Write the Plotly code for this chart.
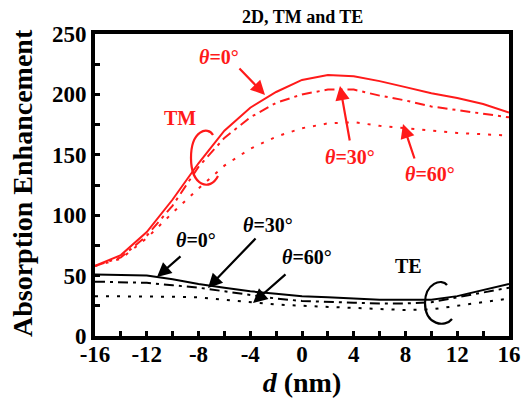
import plotly.graph_objects as go

d_nm = [-16, -14, -12, -10, -8, -6, -4, -2, 0, 2, 4, 6, 8, 10, 12, 14, 16]
tm_0 = [58, 67, 86, 113, 143, 170, 189, 202, 212, 216, 215, 211, 206, 201, 197, 192, 185]
tm_30 = [58, 65, 83, 108, 140, 164, 181, 193, 200, 204, 204, 199, 195, 190, 187, 184, 181]
tm_60 = [58, 64, 81, 102, 122, 141, 155, 165, 172, 176, 177, 174, 172, 170, 168, 167, 166]
te_0 = [51, 50.5, 50, 47, 43, 40, 37, 35, 33, 32, 31, 30, 30, 30, 33, 38, 43]
te_30 = [45, 44.5, 44, 42, 40, 37, 34, 31, 29, 28, 27.5, 27, 27, 28, 32, 36, 40]
te_60 = [33, 33, 33, 32.5, 32, 30, 28, 26, 25, 24, 23, 22, 21.5, 22, 25, 28, 31]

x_ticks = [-16, -12, -8, -4, 0, 4, 8, 12, 16]
y_ticks = [0, 50, 100, 150, 200, 250]

RED = "#ff1a1a"
FONT = "Liberation Serif"

# plot area in pixels
L, R, T, B = 95, 509, 34, 336

fig = go.Figure()
series = [
    (tm_0, RED, "solid"), (tm_30, RED, "10px,5px,3px,5px"), (tm_60, RED, "3px,8px"),
    (te_0, "black", "solid"), (te_30, "black", "10px,5px,3px,5px"), (te_60, "black", "3px,8px"),
]
for ys, col, dash in series:
    fig.add_trace(go.Scatter(x=d_nm, y=ys, mode="lines",
                             line=dict(color=col, width=2, dash=dash),
                             showlegend=False, hoverinfo="skip"))

# pixel -> data helpers for decorations
def px(xp):
    return -16 + (xp - L) * 32 / (R - L)

def py(yp):
    return (B - yp) * 250 / (B - T)

def label(xp, yp, text, color):
    fig.add_annotation(x=px(xp), y=py(yp), text=text, showarrow=False,
                       font=dict(family=FONT, size=20, color=color, weight="bold"))

def arrow(x0, y0, x1, y1, color):
    fig.add_annotation(x=px(x1), y=py(y1), ax=px(x0), ay=py(y0), axref="x", ayref="y",
                       xref="x", yref="y", text="", showarrow=True, arrowhead=2,
                       arrowsize=1.3, arrowwidth=2.2, arrowcolor=color)

label(219, 57, "<i>θ</i>=0°", RED)
arrow(238, 67, 265, 95, RED)
label(180, 118, "TM", RED)
label(350, 157, "<i>θ</i>=30°", RED)
arrow(350, 142, 340, 86, RED)
label(430, 174, "<i>θ</i>=60°", RED)
arrow(415, 160, 403, 124, RED)

label(196, 240, "<i>θ</i>=0°", "black")
arrow(182, 255, 157, 277, "black")
label(268, 225, "<i>θ</i>=30°", "black")
arrow(257, 237, 208, 288, "black")
label(307, 257, "<i>θ</i>=60°", "black")
arrow(287, 273, 253, 303, "black")
label(408, 266, "TE", "black")

def cpath(pts):
    (a, b, c, d, e, f, g) = pts
    s = "M %f,%f C %f,%f %f,%f %f,%f C %f,%f %f,%f %f,%f" % (
        px(a[0]), py(a[1]), px(b[0]), py(b[1]), px(c[0]), py(c[1]), px(d[0]), py(d[1]),
        px(e[0]), py(e[1]), px(f[0]), py(f[1]), px(g[0]), py(g[1]))
    return s

fig.add_shape(type="path", xref="x", yref="y",
              path=cpath([(213, 135), (208, 126), (191, 130), (191, 158), (191, 186), (210, 192), (218, 176)]),
              line=dict(color=RED, width=2.2))
fig.add_shape(type="path", xref="x", yref="y",
              path=cpath([(447, 285), (442, 278), (425, 283), (425, 303), (425, 325), (445, 328), (452, 319)]),
              line=dict(color="black", width=2.2))

fig.add_annotation(xref="paper", yref="paper", x=0.5, y=1.0, yshift=17, yanchor="middle",
                   text="2D, TM and TE",
                   showarrow=False, font=dict(family=FONT, size=18, color="black", weight="bold"))

# y-axis title placed as a rotated annotation
fig.add_annotation(xref="paper", yref="paper", x=(22 - L) / (R - L), y=(B - 183) / (B - T),
                   text="Absorption Enhancement", textangle=-90, showarrow=False,
                   xanchor="center", yanchor="middle",
                   font=dict(family=FONT, size=28, color="black", weight="bold"))

axis_common = dict(showline=True, linewidth=4, linecolor="black", mirror=True,
                   ticks="inside", ticklen=5, tickwidth=3, tickcolor="black",
                   showgrid=False, zeroline=False, automargin=False,
                   tickfont=dict(family=FONT, size=23, color="black", weight="bold"))

fig.update_xaxes(range=[-16, 16], tickvals=x_ticks, ticktext=[str(v) for v in x_ticks],
                 minor=dict(ticks="inside", ticklen=5, tickwidth=3, tickcolor="black", dtick=2),
                 ticklabelstandoff=-6,
                 title=dict(text="<i>d</i> (nm)", standoff=0,
                            font=dict(family=FONT, size=28, color="black", weight="bold")),
                 **axis_common)
fig.update_yaxes(range=[0, 250], tickvals=y_ticks, ticktext=[str(v) for v in y_ticks],
                 minor=dict(ticks="inside", ticklen=5, tickwidth=3, tickcolor="black", dtick=25),
                 **axis_common)

fig.update_layout(width=521, height=399, margin=dict(l=L, r=521 - R, t=T, b=399 - B),
                  paper_bgcolor="white", plot_bgcolor="white")

fig.write_html("out.html", config={"displayModeBar": False},
               post_script="document.body.style.margin='0px';")
